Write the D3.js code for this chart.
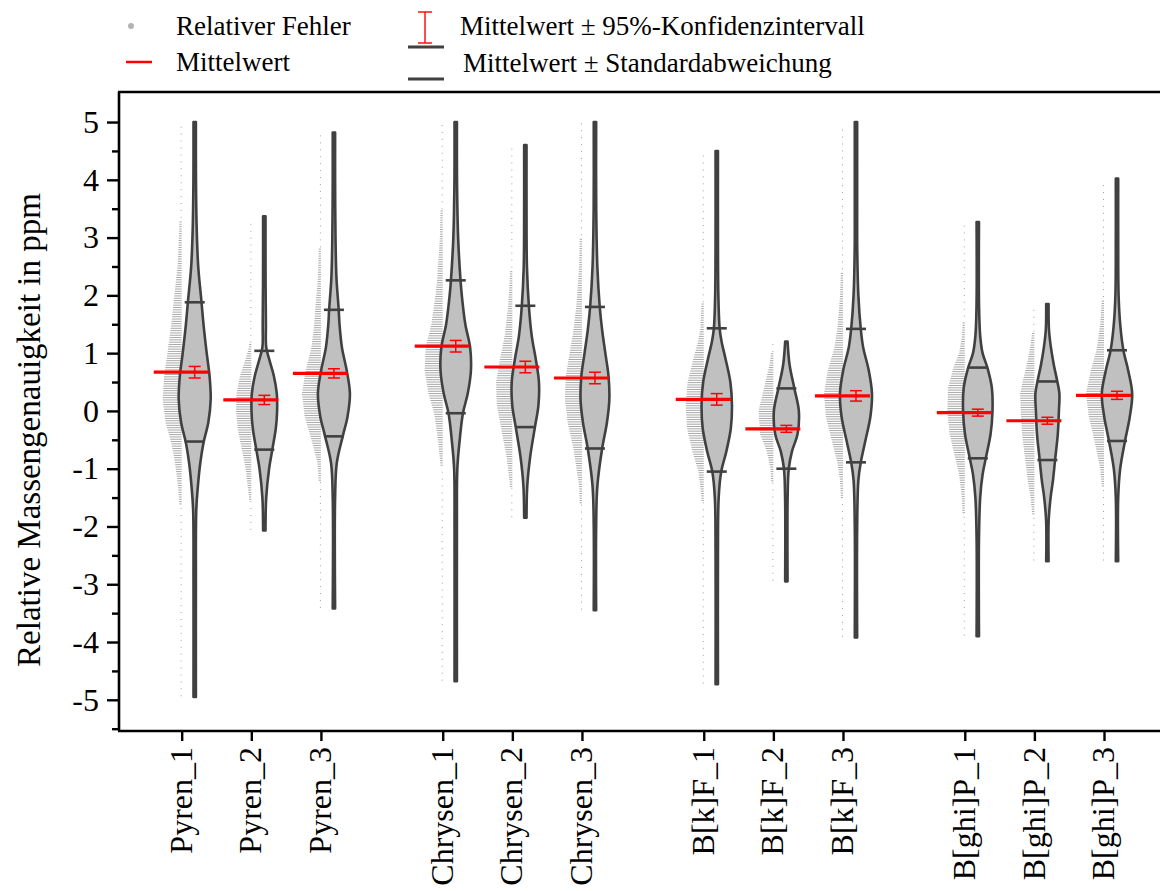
<!DOCTYPE html>
<html><head><meta charset="utf-8">
<script src="https://cdn.jsdelivr.net/npm/d3@7"></script>
<style>
body{margin:0;background:#fff}
svg{display:block}
text{font-family:"Liberation Serif","Times New Roman",serif;fill:#000}
</style>
</head><body>
<svg id="chart" width="1160" height="891"></svg>
<script>
// ---------------- data ----------------
const categories = ["Pyren_1","Pyren_2","Pyren_3","Chrysen_1","Chrysen_2","Chrysen_3",
                    "B[k]F_1","B[k]F_2","B[k]F_3","B[ghi]P_1","B[ghi]P_2","B[ghi]P_3"];
const groupOf = [0,0,0,1,1,1,2,2,2,3,3,3];
const slotOf  = [0,1,2,0,1,2,0,1,2,0,1,2];
const means   = [0.67,0.19,0.65,1.12,0.76,0.57,0.20,-0.31,0.26,-0.03,-0.17,0.27];
const ciHalf  = [0.10,0.08,0.08,0.10,0.10,0.10,0.10,0.06,0.09,0.06,0.06,0.07];
const sdHigh  = [1.88,1.04,1.75,2.26,1.82,1.80,1.43,0.39,1.42,0.75,0.51,1.05];
const sdLow   = [-0.53,-0.67,-0.44,-0.04,-0.28,-0.65,-1.05,-1.00,-0.89,-0.82,-0.85,-0.52];
// violin density profiles (value in ppm, relative density)
const profileVals = [
  [-4.95,-3,-1.7,-1.3,-0.9,-0.55,-0.2,0.2,0.6,1.0,1.5,1.9,2.5,3.2,4.0,5.0],
  [-2.07,-1.5,-1.0,-0.67,-0.3,0.0,0.3,0.6,0.9,1.1,1.5,2.2,3.37],
  [-3.42,-1.5,-0.9,-0.44,-0.1,0.3,0.7,1.1,1.5,1.75,2.3,3.0,4.0,4.82],
  [-4.68,-2,-1.0,-0.5,-0.04,0.3,0.7,1.1,1.5,2.0,2.26,3.0,4.0,5.0],
  [-1.85,-1.3,-0.8,-0.28,0.1,0.5,0.9,1.3,1.82,2.5,3.5,4.6],
  [-3.45,-2,-1.3,-0.65,-0.2,0.2,0.6,1.0,1.4,1.8,2.5,3.5,5.0],
  [-4.73,-2.5,-1.5,-1.05,-0.7,-0.3,0.1,0.5,0.9,1.2,1.43,2.0,3.0,4.5],
  [-2.95,-1.5,-1.0,-0.7,-0.4,0.0,0.39,0.8,1.2],
  [-3.92,-2,-1.2,-0.89,-0.5,-0.1,0.3,0.7,1.1,1.42,2.0,2.8,3.5,5.0],
  [-3.9,-2.2,-1.5,-1.1,-0.82,-0.4,0.0,0.4,0.75,1.0,1.3,1.8,3.27],
  [-2.6,-1.9,-1.5,-1.2,-0.85,-0.4,0.0,0.3,0.51,0.8,1.1,1.4,1.85],
  [-2.6,-1.5,-1.0,-0.52,-0.1,0.3,0.7,1.05,1.5,2.0,3.0,4.02]
];
const profileDens = [
  [0.05,0.06,0.10,0.20,0.35,0.55,0.85,1.00,0.93,0.75,0.55,0.42,0.22,0.12,0.08,0.05],
  [0.05,0.12,0.30,0.50,0.72,0.80,0.78,0.60,0.30,0.12,0.10,0.08,0.05],
  [0.05,0.06,0.18,0.55,0.85,1.00,0.80,0.50,0.35,0.30,0.16,0.10,0.07,0.05],
  [0.05,0.05,0.10,0.25,0.45,0.75,0.95,0.90,0.60,0.38,0.30,0.15,0.08,0.05],
  [0.06,0.12,0.30,0.60,0.82,0.85,0.65,0.40,0.22,0.10,0.07,0.05],
  [0.05,0.07,0.15,0.45,0.75,0.90,0.85,0.65,0.45,0.30,0.15,0.08,0.05],
  [0.05,0.06,0.12,0.28,0.60,0.88,0.95,0.85,0.55,0.30,0.18,0.10,0.07,0.05],
  [0.05,0.08,0.15,0.35,0.70,0.78,0.50,0.20,0.05],
  [0.05,0.06,0.15,0.30,0.60,0.90,1.00,0.80,0.45,0.30,0.15,0.08,0.06,0.05],
  [0.05,0.06,0.15,0.30,0.50,0.80,0.92,0.88,0.60,0.30,0.15,0.08,0.05],
  [0.05,0.08,0.20,0.35,0.48,0.65,0.72,0.75,0.62,0.40,0.22,0.10,0.05],
  [0.05,0.06,0.20,0.50,0.80,0.95,0.70,0.40,0.20,0.10,0.07,0.05]
];
const yTicks = [-5,-4,-3,-2,-1,0,1,2,3,4,5];
const yMinorTicks = [-5.5,-4.5,-3.5,-2.5,-1.5,-0.5,0.5,1.5,2.5,3.5,4.5];
const legendLabels = ["Relativer Fehler","Mittelwert","Mittelwert \u00B1 95%-Konfidenzintervall","Mittelwert \u00B1 Standardabweichung"];

// ---------------- layout ----------------
const FONT = "'Liberation Serif','Times New Roman',serif";
const svg = d3.select("#chart");
const L = 119, R = 1160, T = 92, B = 731;
const y = d3.scaleLinear().domain([-5.54, 5.52]).range([B, T]);
const pos = categories.map((c,i)=> groupOf[i]*3.75 + slotOf[i]);
const x = d3.scaleLinear().domain([0, 13.25]).range([181.7, 1104]);
const w = d3.scaleLinear().domain([0,1]).range([0,16]);
const rugLen = d3.scaleLinear().domain([0,1]).range([0,19]);
const violinOffset = 13;

const gPlot = svg.append("g");

categories.forEach((cat,i)=>{
  const tx = x(pos[i]);
  const cx = tx + violinOffset;
  const pts = profileVals[i].map((v,k)=>({v, d: profileDens[i][k]}));
  const dens = d3.scaleLinear().domain(profileVals[i]).range(profileDens[i]).clamp(true);
  const lo = profileVals[i][0], hi = profileVals[i][profileVals[i].length-1];

  // rug of data points (histogram aligned, left of violin)
  const rug = gPlot.append("g");
  let k = 0;
  for (let v = lo + 0.02; v <= hi - 0.02; v += 0.04, k++) {
    const len = rugLen(dens(v));
    if (len < 2.2) {
      if (k % 3 !== 0) continue;
      rug.append("rect").attr("x", tx-1).attr("y", y(v)-0.5).attr("width",1).attr("height",1)
        .attr("fill","#a0a0a0");
    } else {
      rug.append("line").attr("x1", tx - len).attr("x2", tx).attr("y1", y(v)).attr("y2", y(v))
        .attr("stroke","#a8a8a8").attr("stroke-width",1);
    }
  }

  // violin
  const area = d3.area()
    .y(d=>y(d.v))
    .x0(d=>cx - Math.max(1.2, w(d.d)))
    .x1(d=>cx + Math.max(1.2, w(d.d)))
    .curve(d3.curveCatmullRom.alpha(0.5));
  gPlot.append("path").attr("d", area(pts))
    .attr("fill","#c0c0c0").attr("stroke","#404040").attr("stroke-width",2.6)
    .attr("stroke-linejoin","round");

  // SD lines
  [sdHigh[i], sdLow[i]].forEach(s=>{
    gPlot.append("line").attr("x1",cx-10).attr("x2",cx+10).attr("y1",y(s)).attr("y2",y(s))
      .attr("stroke","#404040").attr("stroke-width",2.6);
  });

  // mean line
  gPlot.append("line").attr("x1",tx-28).attr("x2",tx+27).attr("y1",y(means[i])).attr("y2",y(means[i]))
    .attr("stroke","#ff0000").attr("stroke-width",3.2);

  // CI error bar
  const ciT = y(means[i]+ciHalf[i]), ciB = y(means[i]-ciHalf[i]);
  const eb = gPlot.append("g").attr("stroke","#ff0000").attr("stroke-width",1.5);
  eb.append("line").attr("x1",cx).attr("x2",cx).attr("y1",ciT).attr("y2",ciB);
  eb.append("line").attr("x1",cx-6).attr("x2",cx+6).attr("y1",ciT).attr("y2",ciT);
  eb.append("line").attr("x1",cx-6).attr("x2",cx+6).attr("y1",ciB).attr("y2",ciB);
});

// ---------------- axes ----------------
const yAxis = d3.axisLeft(y).tickValues(yTicks).tickSize(12).tickPadding(8)
  .tickFormat(d=> d<0 ? "-"+Math.abs(d) : String(d));
const gy = svg.append("g").attr("transform",`translate(${L},0)`).call(yAxis);
gy.attr("font-family", null);
gy.select(".domain").remove();
gy.selectAll(".tick line").attr("stroke","#000").attr("stroke-width",2.4);
gy.selectAll(".tick text").attr("font-size",32).style("font-family",FONT);
const yMinor = d3.axisLeft(y).tickValues(yMinorTicks).tickSize(7).tickFormat("");
const gym = svg.append("g").attr("transform",`translate(${L},0)`).call(yMinor);
gym.select(".domain").remove();
gym.selectAll(".tick line").attr("stroke","#000").attr("stroke-width",2.4);

const xAxis = d3.axisBottom(x).tickValues(pos).tickSize(10).tickFormat((d,i)=>categories[i]);
const gx = svg.append("g").attr("transform",`translate(0,${B})`).call(xAxis);
gx.attr("font-family", null);
gx.select(".domain").remove();
gx.selectAll(".tick line").attr("stroke","#000").attr("stroke-width",2.4);
gx.selectAll(".tick text")
  .attr("font-size",32).style("font-family",FONT)
  .attr("transform","rotate(-90)").attr("text-anchor","end")
  .attr("x",-16).attr("y",0).attr("dy","0.3em");

// frame lines
svg.append("line").attr("x1",L).attr("x2",L).attr("y1",T).attr("y2",B).attr("stroke","#000").attr("stroke-width",2.6);
svg.append("line").attr("x1",L-1).attr("x2",R).attr("y1",B).attr("y2",B).attr("stroke","#000").attr("stroke-width",2.6);
svg.append("line").attr("x1",L-1).attr("x2",R).attr("y1",T).attr("y2",T).attr("stroke","#000").attr("stroke-width",2.6);

// y title
svg.append("text").attr("transform",`translate(40,430) rotate(-90)`).attr("text-anchor","middle")
  .attr("font-size",33).text("Relative Massengenauigkeit in ppm");

// ---------------- legend ----------------
const lg = svg.append("g");
lg.append("circle").attr("cx",131).attr("cy",26).attr("r",3).attr("fill","#b4b4b4");
lg.append("text").attr("x",176).attr("y",35).attr("font-size",27).text(legendLabels[0]);
lg.append("line").attr("x1",126).attr("x2",152).attr("y1",62).attr("y2",62).attr("stroke","#ff0000").attr("stroke-width",2.5);
lg.append("text").attr("x",176).attr("y",71).attr("font-size",27).text(legendLabels[1]);
const li = lg.append("g").attr("stroke","#ff0000").attr("stroke-width",1.4);
li.append("line").attr("x1",425).attr("x2",425).attr("y1",12).attr("y2",43);
li.append("line").attr("x1",418).attr("x2",432).attr("y1",12).attr("y2",12);
li.append("line").attr("x1",418).attr("x2",432).attr("y1",43).attr("y2",43);
lg.append("text").attr("x",460).attr("y",35).attr("font-size",27).text(legendLabels[2]);
lg.append("line").attr("x1",408).attr("x2",444).attr("y1",47).attr("y2",47).attr("stroke","#404040").attr("stroke-width",3);
lg.append("line").attr("x1",408).attr("x2",444).attr("y1",79).attr("y2",79).attr("stroke","#404040").attr("stroke-width",3);
lg.append("text").attr("x",463).attr("y",72).attr("font-size",27).text(legendLabels[3]);
</script>
</body></html>
